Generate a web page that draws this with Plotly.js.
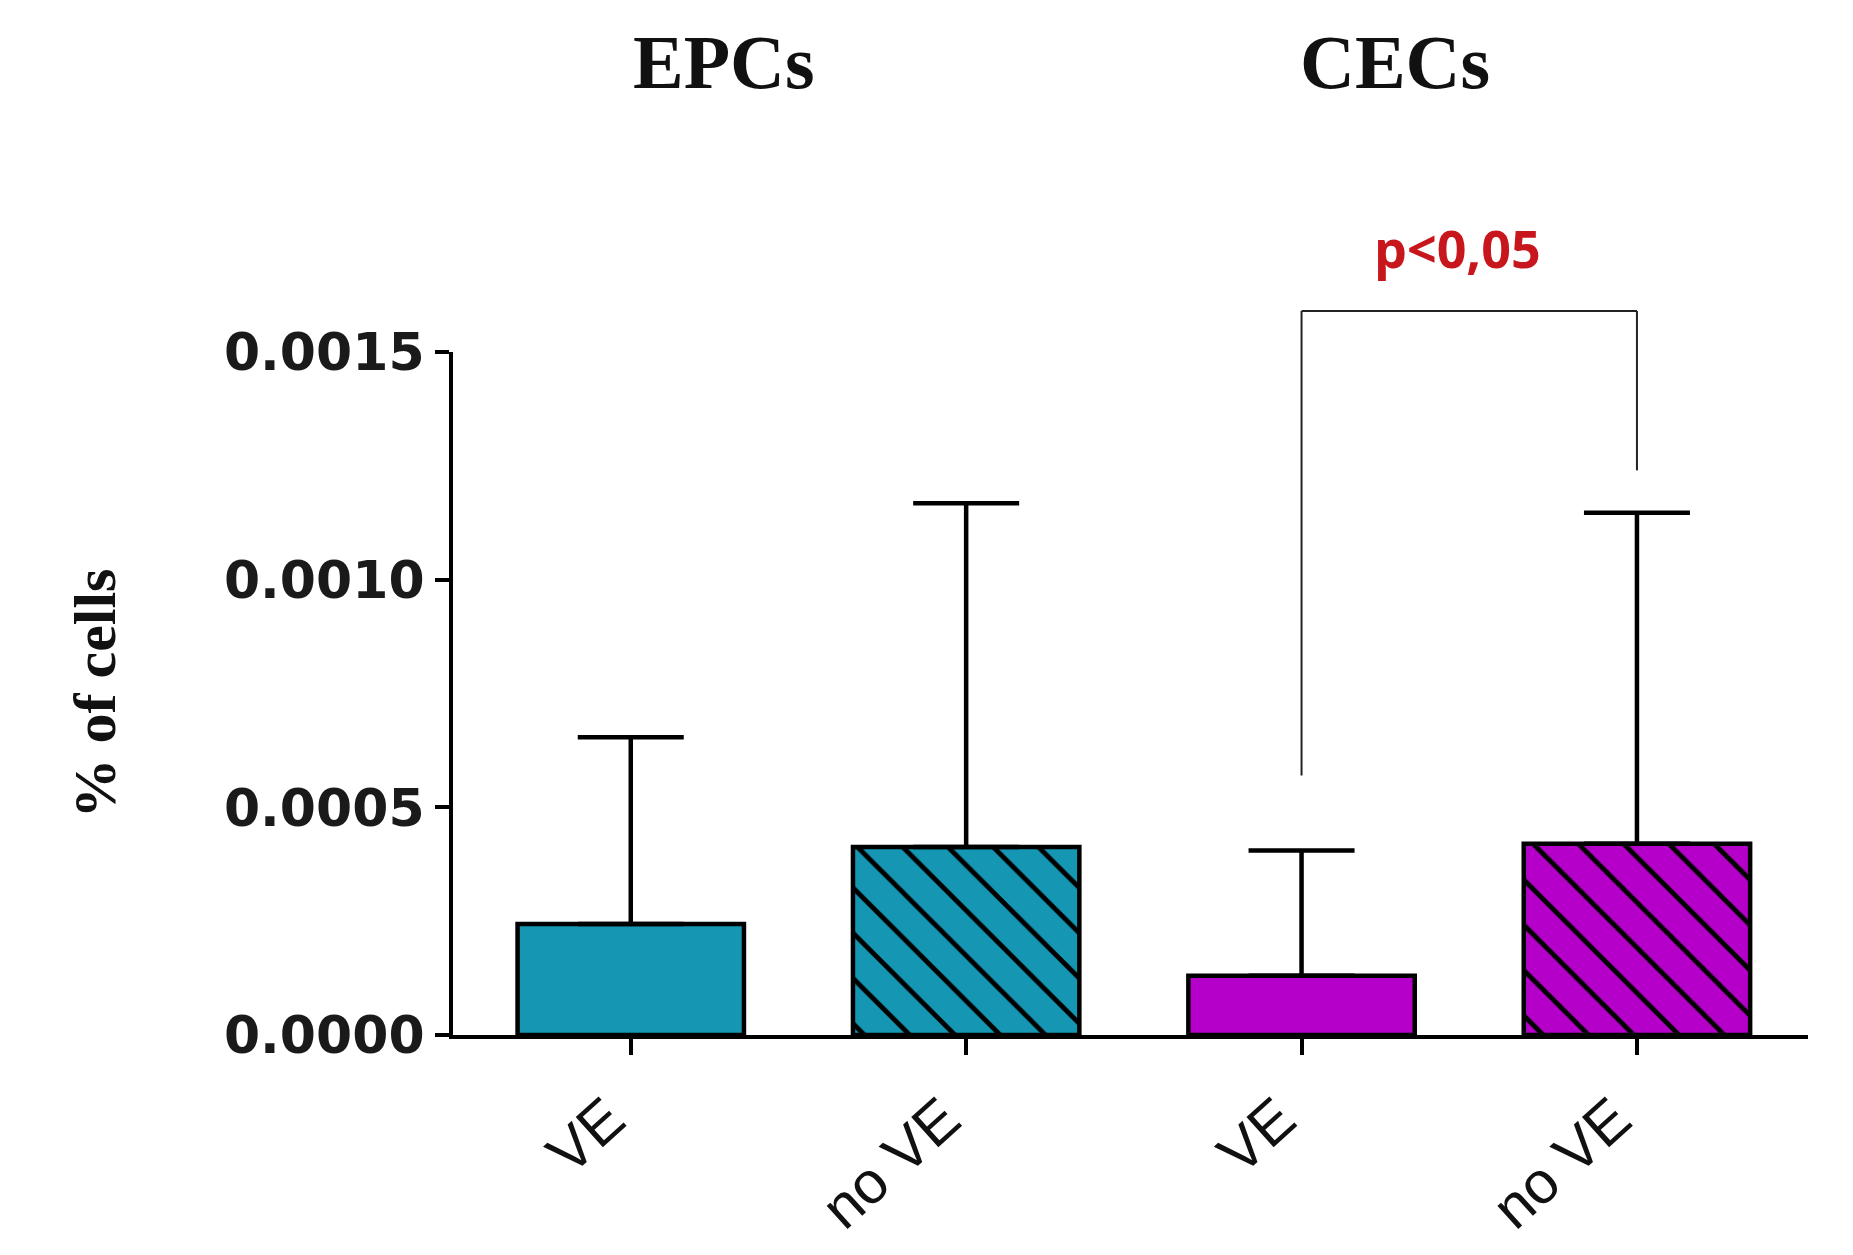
<!DOCTYPE html>
<html>
<head>
<meta charset="utf-8">
<script src="https://cdn.plot.ly/plotly-3.0.1.min.js"></script>
<style>
  html, body { margin: 0; padding: 0; background: #ffffff; }
  #chart { width: 1853px; height: 1255px; }
</style>
</head>
<body>
<div id="chart"></div>
<script>
// ---- data ----
const groups = ['EPCs', 'EPCs', 'CECs', 'CECs'];
const conditions = ['VE', 'no VE', 'VE', 'no VE'];
const means = [0.000244, 0.000413, 0.000130, 0.000420];
const sdUpper = [0.000410, 0.000755, 0.000275, 0.000727];
const sdLower = [0, 0, 0, 0];
const groupNames = ['EPCs', 'CECs'];
const yTickVals = [0.0000, 0.0005, 0.0010, 0.0015];
// significance bracket between CECs VE and CECs no VE
const sigLabel = 'p<0,05';
const sigPair = [2, 3];
const sigTop = 0.00159;
const sigLeftBottom = 0.00057;
const sigRightBottom = 0.00124;

// ---- styles ----
const groupColor = { 'EPCs': '#1597b4', 'CECs': '#b400c8' };
const condPattern = { 'VE': '', 'no VE': '\\' };
const yMax = 0.0015;

const xs = conditions.map((c, i) => i);

// one trace per bar so each bar keeps its own black hatch
const barTraces = conditions.map((cond, i) => ({
  type: 'bar',
  name: groups[i] + ' ' + cond,
  x: [xs[i]],
  y: [means[i]],
  width: 0.675,
  marker: {
    color: groupColor[groups[i]],
    line: { color: '#000000', width: 4.5 },
    pattern: {
      shape: condPattern[cond],
      fgcolor: '#000000',
      fgopacity: 1,
      size: 32,
      solidity: 0.15,
      fillmode: 'overlay'
    }
  },
  error_y: {
    type: 'data',
    symmetric: false,
    array: [sdUpper[i]],
    arrayminus: [sdLower[i]],
    color: '#000000',
    thickness: 4.5,
    width: 53
  },
  hoverinfo: 'skip',
  showlegend: false
}));

// group header annotations, over each pair of bars
const headerAnn = groupNames.map(name => {
  const idx = groups.map((g, i) => g === name ? i : -1).filter(i => i >= 0);
  const mid = idx.reduce((a, b) => a + b, 0) / idx.length;
  return {
    text: '<b>' + name + '</b>',
    x: mid, xref: 'x',
    y: 1.425, yref: 'paper',
    xshift: -74,
    showarrow: false,
    xanchor: 'center', yanchor: 'middle',
    font: { family: 'Liberation Serif, Times New Roman, serif', size: 76, color: '#111111' }
  };
});

const sigAnn = {
  text: '<b>' + sigLabel + '</b>',
  x: (sigPair[0] + sigPair[1]) / 2, xref: 'x',
  y: sigTop / yMax, yref: 'paper',
  yanchor: 'bottom', xanchor: 'center',
  yshift: 26,
  xshift: -12,
  showarrow: false,
  font: { family: 'Open Sans, Liberation Sans, sans-serif', size: 52, color: '#c8161d' }
};

const bracketLine = { color: '#222222', width: 2 };
const shapes = [
  { type: 'line', xref: 'x', yref: 'paper', x0: sigPair[0], x1: sigPair[0], y0: sigLeftBottom / yMax, y1: sigTop / yMax, line: bracketLine },
  { type: 'line', xref: 'x', yref: 'paper', x0: sigPair[0], x1: sigPair[1], y0: sigTop / yMax, y1: sigTop / yMax, line: bracketLine },
  { type: 'line', xref: 'x', yref: 'paper', x0: sigPair[1], x1: sigPair[1], y0: sigRightBottom / yMax, y1: sigTop / yMax, line: bracketLine }
];

const layout = {
  width: 1853,
  height: 1255,
  paper_bgcolor: '#ffffff',
  plot_bgcolor: '#ffffff',
  margin: { l: 453, r: 45, t: 352, b: 220, pad: 0 },
  showlegend: false,
  barmode: 'overlay',
  xaxis: {
    range: [-0.53, 3.51],
    tickmode: 'array',
    tickvals: xs,
    ticktext: conditions,
    tickangle: -42,
    ticks: 'outside',
    ticklen: 16,
    tickwidth: 4,
    tickcolor: '#000000',
    ticklabelstandoff: 6,
    ticklabelshift: -22,
    showline: true,
    linewidth: 4,
    linecolor: '#000000',
    showgrid: false,
    zeroline: false,
    automargin: false,
    tickfont: { family: 'Liberation Sans, Arial, sans-serif', size: 59, color: '#111111' }
  },
  yaxis: {
    range: [0, yMax],
    tickmode: 'array',
    tickvals: yTickVals,
    tickformat: '.4f',
    ticks: 'outside',
    ticklen: 14,
    tickwidth: 4,
    tickcolor: '#000000',
    showline: true,
    linewidth: 4,
    linecolor: '#000000',
    showgrid: false,
    zeroline: false,
    automargin: false,
    tickfont: { family: 'DejaVu Sans, sans-serif', size: 52, color: '#1a1a1a', weight: 'bold' },
    title: {
      text: '<b>% of cells</b>',
      standoff: 90,
      font: { family: 'Liberation Serif, Times New Roman, serif', size: 60, color: '#111111' }
    }
  },
  annotations: headerAnn.concat([sigAnn]),
  shapes: shapes
};

Plotly.newPlot('chart', barTraces, layout, { displayModeBar: false, staticPlot: true });
</script>
</body>
</html>
